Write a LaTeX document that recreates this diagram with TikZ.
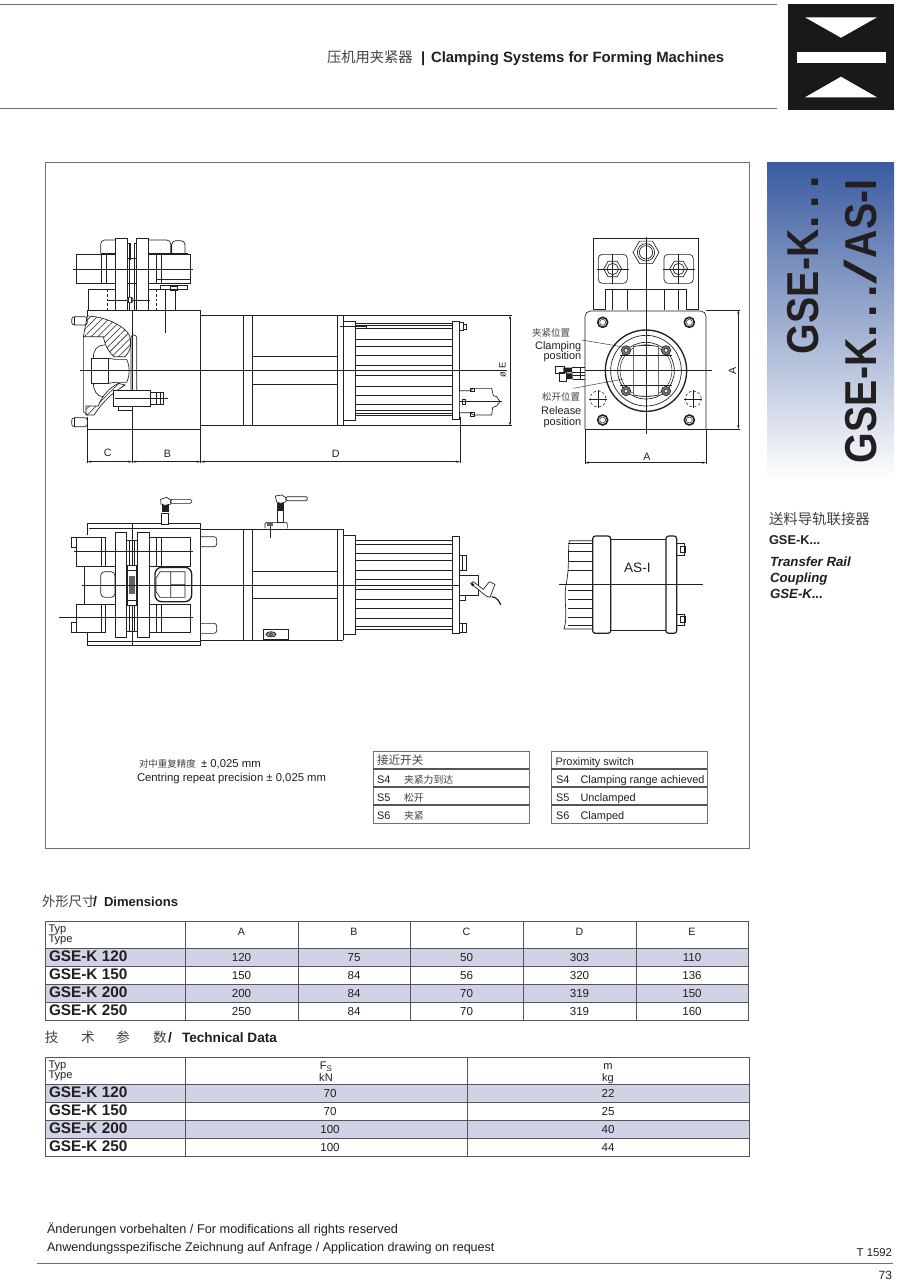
\documentclass[tikz,border=0pt]{standalone}
\usepackage{fontspec}
\usepackage{graphicx}
\setmainfont{Liberation Sans}
\newfontfamily\cjk{Noto Sans CJK SC}[BoldFont={Noto Sans CJK SC}]
\usetikzlibrary{patterns.meta,arrows.meta}
\definecolor{ink}{HTML}{231F20}
\definecolor{rowfill}{HTML}{D0D2E6}
\definecolor{rule}{HTML}{555555}
\definecolor{framegray}{HTML}{707070}
\definecolor{panelblue}{HTML}{3A5BA0}
\definecolor{panelmid}{HTML}{ABAFD5}
\tikzset{
  part/.style={draw=ink,line width=.5pt},
  thin part/.style={draw=ink,line width=.35pt},
  heavy/.style={draw=ink,line width=1pt},
  axis line/.style={draw=ink,line width=.3pt},
  dim line/.style={draw=ink,line width=.35pt,{Stealth[length=3pt,width=1.6pt]}-{Stealth[length=3pt,width=1.6pt]}},
  hidden part/.style={draw=ink,line width=.4pt,dash pattern=on 2pt off 1.5pt},
  hatched/.style={draw=ink,line width=.5pt,pattern={Lines[angle=45,distance=3.6pt,line width=.4pt]},pattern color=ink},
  txt/.style={inner sep=0pt,outer sep=0pt,text=ink,anchor=base west},
  txtr/.style={txt,anchor=base east},
  txtc/.style={txt,anchor=base},
  cellrule/.style={draw=rule,line width=.7pt},
  view/.style={x=.25pt,y=-.25pt},
}
\newcommand{\fs}[1]{\fontsize{#1}{#1}\selectfont}
\newcommand{\hexa}[3]{\draw[part] (#1,#2)+(0:#3)--+(60:#3)--+(120:#3)--+(180:#3)--+(240:#3)--+(300:#3)--cycle;}
\newcommand{\narrow}[1]{\scalebox{.88}[1]{#1}}
\newcommand{\wdots}{\kern1pt.\kern5.4pt.\kern5.4pt.}
\begin{document}
\begin{tikzpicture}[x=.75pt,y=-.75pt]
\useasboundingbox (0,0) rectangle (900,1283);
\fill[white] (0,0) rectangle (900,1283);

% header
\draw[framegray,line width=.6pt] (0,4)--(777,4) (0,108)--(777,108);
\node[txt] (titlecn) at (327,62) {\cjk\fs{10.7}\color{ink!85}压机用夹紧器};
\node[txt] (titlebar) at (421,62) {\fs{11}\bfseries |};
\node[txt] (titleen) at (431,62) {\fs{11.18}\bfseries Clamping Systems for Forming Machines};
\fill[black!90] (788,4) rectangle (894,110);
\fill[white] (797,52) rectangle (886,62.5);
\fill[white] (805,17.3)--(877,17.3)--(841,37.7)--cycle;
\fill[white] (805,97.3)--(877,97.3)--(841,76.7)--cycle;

% side panel
\shade[top color=panelblue,middle color=panelmid,bottom color=white] (767,162) rectangle (894,480);
\node[txt,rotate=90] (bigone) at (818,354) {\fs{33.5}\bfseries\narrow{GSE-K}\wdots};
\node[txt,rotate=90] (bigtwo) at (876,463) {\fs{33.5}\bfseries\narrow{GSE-K}\wdots\kern1pt\scalebox{2}[1]{\mdseries /}\kern1pt\narrow{AS-I}};
\node[txt] (sidecn) at (769,524) {\cjk\fs{10.8}\color{ink!85}送料导轨联接器};
\node[txt] (sideone) at (769,544) {\fs{9.6}\bfseries GSE-K...};
\node[txt] (sidetwo) at (770,566) {\fs{9.95}\bfseries\itshape Transfer Rail};
\node[txt] (sidethree) at (770,582) {\fs{9.95}\bfseries\itshape Coupling};
\node[txt] (sidefour) at (770,598) {\fs{9.95}\bfseries\itshape GSE-K...};

% frame
\draw[framegray,line width=.6pt] (45,162) rectangle (749,848);

% ------ upper side view (reference crop at 50,220)
\begin{scope}[view,shift={(150,660)}]
 % dims
 \draw[axis line] (112,628)--(112,730) (247,628)--(247,730) (452,628)--(452,730) (1230,590)--(1230,730);
 \draw[dim line] (112,725)--(247,725);
 \draw[dim line] (247,725)--(452,725);
 \draw[dim line] (452,725)--(1230,725);
 \draw[axis line] (880,286)--(1385,286) (880,617)--(1385,617);
 \draw[dim line] (1380,286)--(1380,617);
 \node[txtc] (labC) at (173,709) {\fs{8}C};
 \node[txtc] (labB) at (352,713) {\fs{8}B};
 \node[txtc] (labD) at (857,712) {\fs{8}D};
 \node[txtc,rotate=90] (labE) at (1367,450) {\fs{7}ø E};
 % head
 \draw[part] (195,55) rectangle (232,270) (260,55) rectangle (295,270);
 \draw[part] (232,70) -- (238,70)--(238,270) (260,70)--(254,70)--(254,270);
 \draw[heavy] (240,68)--(240,120) (254,68)--(254,120);
 \draw[thin part] (232,115)--(260,115) (232,190)--(260,190);
 \draw[part,fill=white] (78,103) rectangle (170,190) (318,103) rectangle (420,190);
 \draw[part] (155,103)--(155,190) (335,103)--(335,190) (170,103)--(195,103) (170,190)--(195,190) (295,103)--(318,103) (295,190)--(318,190) (318,178)--(420,178) (318,103)--(318,190);
 \draw[part,rounded corners=3pt] (152,100)--(152,60)--(195,60) (295,60)--(362,60)--(362,100) (365,100)--(365,62)--(405,62)--(405,100);
 \draw[thin part] (152,100)--(195,100) (295,100)--(415,100);
 \draw[axis line] (68,148)--(428,148);
 \draw[part] (115,270)--(115,208)--(195,208) (295,208)--(375,208)--(375,270);
 \draw[hidden part] (172,208)--(172,270) (320,208)--(320,270);
 \draw[part] (332,195)--(413,195)--(413,208)--(360,208) (332,195)--(332,208) (360,198)--(382,198)--(382,210)--(360,210)--cycle;
 \draw[part] (345,208)--(345,340);
 \draw[axis line] (175,240)--(300,240);
 \draw[part,fill=white] (240,240) circle[radius=9];
 \draw[heavy] (236,232)--(236,248) (244,232)--(244,248);
 % main block
 \draw[part] (112,270) rectangle (452,628);
 \draw[part] (247,270)--(247,628);
 \fill[white] (105,292) rectangle (114,595);
 \draw[part] (112,270)--(112,290) (112,590)--(112,628);
 \draw[part] (100,350)--(100,575)--(112,585);
 \draw[part,rounded corners=2pt] (65,290) rectangle (112,315) (65,593) rectangle (112,620);
 \draw[thin part] (73,290)--(73,315) (73,593)--(73,620);
 % hatched sections
 \draw[hatched] (112,288) .. controls (170,290) and (225,320) .. (238,345) .. controls (245,365) and (245,390) .. (225,410)
   -- (192,410) .. controls (175,395) and (165,375) .. (160,350) -- (100,350) -- cycle;
 \draw[hatched] (205,490) -- (225,495) .. controls (195,515) and (165,535) .. (132,585) -- (108,585) -- (108,558) -- (145,558) .. controls (155,530) and (175,505) .. (205,490) -- cycle;
 % ball and pin
 \draw[part] (125,415) rectangle (175,490);
 \draw[part] (175,415) -- (195,418) -- (230,418) (175,490)--(195,487)--(230,487);
 \draw[part] (130,415) .. controls (130,390) and (140,375) .. (165,375) (130,490) .. controls (130,510) and (140,530) .. (160,530);
 \draw[part] (230,418) .. controls (240,440) and (240,465) .. (230,487);
 \draw[part,rounded corners=2pt] (243,345) rectangle (260,555);
 % lower piston
 \draw[part,fill=white] (190,510)--(300,510)--(300,560)--(190,560)--(190,540)--cycle;
 \draw[part] (205,560)--(205,570)--(248,570)--(248,560);
 \draw[part] (300,518)--(340,518)--(340,552)--(300,552);
 \draw[thin part] (320,518)--(320,552) (330,518)--(330,552);
 \draw[axis line] (195,535)--(355,535);
 % cylinder
 \draw[part] (452,286)--(880,286) (452,617)--(880,617);
 \draw[heavy] (580,286)--(580,617) (880,286)--(880,617);
 \draw[part] (606,286)--(606,617) (862,286)--(862,617);
 \draw[part] (606,410)--(862,410) (606,492)--(862,492);
 % flange & fins
 \draw[part] (880,305) rectangle (915,600);
 \draw[part] (870,318)--(950,318)--(950,326)--(915,326);
 \foreach \yy in {310,316,325,357,380,407,435,467,498,525,552,572,580,585}{\draw[thin part] (915,\yy)--(1208,\yy);}
 \draw[part] (1208,305) rectangle (1228,598);
 \draw[part] (1228,308) rectangle (1240,332);
 \draw[thin part] (1240,312) rectangle (1250,328);
 % plug
 \draw[part,fill=white] (1228,512)--(1262,512)--(1270,505)--(1325,505)--(1330,527)--(1340,530)--(1350,545)--(1340,558)--(1328,562)--(1325,585)--(1270,585)--(1262,578)--(1228,578)--cycle;
 \draw[part] (1238,538) rectangle (1245,552) (1262,505) rectangle (1273,515) (1262,578) rectangle (1273,590);
 \draw[axis line] (1228,545)--(1355,545);
 % axis
 \draw[axis line] (90,451)--(1372,451);
\end{scope}

% ------ front view (reference crop at 520,225)
\begin{scope}[view,shift={(1560,675)}]
 \draw[part] (220,255)--(220,40)--(535,40)--(535,255);
 \draw[part,rounded corners=3pt] (235,88) rectangle (322,175) (432,88) rectangle (520,175);
 \draw[part] (257,255)--(257,193)--(500,193)--(500,255) (278,193)--(278,255) (323,193)--(323,255) (432,193)--(432,255) (475,193)--(475,255);
 \draw[heavy] (222,253)--(257,253) (500,253)--(534,253);
 \hexa{278}{132}{27}\hexa{476}{132}{27}\hexa{378}{82}{39}
 \foreach \cx/\cy/\rr in {278/132/17,476/132/17,378/82/26,378/82/20}{\draw[part] (\cx,\cy) circle[radius=\rr];}
 \draw[axis line] (230,132)--(326,132) (278,88)--(278,178) (430,132)--(525,132) (476,88)--(476,178);
 \draw[part,rounded corners=4pt] (195,612)--(195,258)--(558,258)--(558,612);
 \draw[part] (195,612)--(558,612);
 \foreach \cx/\cy in {248/292,508/292,248/585,508/585}{
   \draw[draw=ink,line width=1.2pt] (\cx,\cy) circle[radius=15];
   \draw[thin part] (\cx,\cy) circle[radius=9];}
 \foreach \cx/\cy in {234/522,520/522}{
   \draw[hidden part] (\cx,\cy) circle[radius=24];
   \draw[axis line] (\cx-27,\cy)--(\cx+27,\cy) (\cx,\cy-27)--(\cx,\cy+27);}
 \draw[heavy] (378,437) circle[radius=122];
 \draw[part] (378,437) circle[radius=106];
 \draw[part] (378,437) circle[radius=85];
 \draw[thin part] (378,437) circle[radius=78];
 \draw[part,fill=white] (340,365) .. controls (360,360) and (395,360) .. (415,365) -- (415,510) .. controls (395,515) and (360,515) .. (340,510) -- cycle;
 \draw[part] (340,392)--(415,392) (340,480)--(415,480) (300,392)--(340,392) (415,392)--(455,392) (300,480)--(340,480) (415,480)--(455,480);
 \foreach \cx/\cy in {318/376,438/376,318/498,438/498}{
   \draw[part,fill=ink!60] (\cx,\cy) circle[radius=14];
   \draw[part,fill=white] (\cx,\cy) circle[radius=6];}
 % switch
 \draw[part,fill=white] (106,424) rectangle (132,446) (118,442) rectangle (140,468);
 \fill[ink] (130,428) rectangle (156,442) (140,445) rectangle (158,462);
 \draw[part] (156,428)--(195,428) (158,462)--(195,462) (156,442)--(195,442) (158,452)--(195,452);
 \draw[part] (180,428)--(180,462);
 % axes and leaders
 \draw[axis line] (378,35)--(378,628) (195,437)--(575,437);
 \draw[axis line] (185,345)--(305,365) (160,490)--(310,462);
 % dims
 \draw[axis line] (558,255)--(660,255) (558,612)--(660,612) (195,612)--(195,718) (558,612)--(558,718);
 \draw[dim line] (655,255)--(655,612);
 \draw[dim line] (195,713)--(558,713);
 \node[txtc,rotate=90] (labAv) at (648,437) {\fs{8}A};
 \node[txtc] (labAh) at (381,706) {\fs{8}A};
 % labels
 \node[txtr] (clampcn) at (150,333) {\cjk\fs{7.1}\color{ink!85}夹紧位置};
 \node[txtr] (clampa) at (184,372) {\fs{8.2}Clamping};
 \node[txtr] (clampb) at (184,404) {\fs{8.2}position};
 \node[txtr] (relcn) at (180,526) {\cjk\fs{7.1}\color{ink!85}松开位置};
 \node[txtr] (rela) at (184,569) {\fs{8.2}Release};
 \node[txtr] (relb) at (184,601) {\fs{8.2}position};
\end{scope}

% ------ lower side view (reference crop at 50,490)
\begin{scope}[view,shift={(150,1470)}]
 \draw[part] (112,100) rectangle (452,467);
 \draw[part] (112,114)--(452,114) (112,455)--(452,455);
 \fill[white] (108,115) rectangle (116,454);
 \draw[part] (112,114)--(112,135) (112,430)--(112,455);
 \draw[part] (103,228)--(103,342);
 \draw[part,fill=white] (80,142) rectangle (165,228) (80,342) rectangle (165,428) (297,142) rectangle (420,228) (297,342) rectangle (420,428);
 \draw[part] (155,142)--(155,228) (155,342)--(155,428) (318,142)--(318,228) (335,142)--(335,228) (318,342)--(318,428) (335,342)--(335,428);
 \draw[part] (65,142) rectangle (80,172) (65,398) rectangle (80,428);
 \draw[thin part] (103,228)--(195,228) (103,342)--(195,342);
 \draw[part,rounded corners=2pt] (452,140)--(500,140)--(500,170)--(452,170) (452,400)--(500,400)--(500,430)--(452,430);
 % nuts
 \draw[part,rounded corners=3pt] (152,245) rectangle (195,322);
 \draw[part,line width=1pt,rounded corners=5pt] (315,232) rectangle (425,335);
 \draw[part] (362,245) -- (405,245) -- (405,322) -- (362,322) -- cycle (362,284)--(405,284) (330,245)--(362,245) (330,322)--(362,322) (330,245)--(318,265)--(318,305)--(330,322);
 % plates
 \draw[part,fill=white] (195,127) rectangle (230,442) (262,127) rectangle (297,442);
 \draw[part] (230,150)--(262,150) (230,225)--(262,225) (230,345)--(262,345) (230,425)--(262,425);
 \draw[heavy] (247,103)--(247,466);
 \draw[part] (238,150)--(238,225) (254,150)--(254,225) (238,345)--(238,425) (254,345)--(254,425);
 \draw[part,fill=white] (232,225) rectangle (260,345);
 \fill[ink!70] (238,258) rectangle (255,312);
 \draw[part] (232,240)--(260,240) (232,330)--(260,330);
 % axes
 \draw[axis line] (72,185)--(430,185) (28,382)--(430,382);
 % cylinder
 \draw[part] (452,118)--(880,118) (452,450)--(880,450);
 \draw[heavy] (580,118)--(580,450) (880,118)--(880,450);
 \draw[part] (606,118)--(606,450) (862,118)--(862,450) (606,244)--(862,244) (606,326)--(862,326);
 \draw[part] (640,418) rectangle (715,447);
 \draw[part,fill=ink!50] (663,433) ellipse[x radius=15,y radius=8];
 \draw[part,fill=white] (663,433) circle[radius=4];
 % flange and fins
 \draw[part] (880,135) rectangle (915,432);
 \foreach \yy in {152,162,190,212,240,268,298,328,355,385,408,418}{\draw[thin part] (915,\yy)--(1208,\yy);}
 \draw[part] (1208,138) rectangle (1228,430);
 % plug
 \draw[part] (1228,255)--(1285,255)--(1285,315)--(1228,315);
 \draw[part] (1228,195) rectangle (1248,240) (1228,315) rectangle (1245,330) (1228,400) rectangle (1248,428);
 \draw[thin part] (1237,195)--(1237,240) (1237,400)--(1237,428);
 \draw[part,fill=white] (1262,280)--(1270,275)--(1300,298)--(1318,275)--(1335,283)--(1320,322)--(1308,318)--cycle;
 \draw[part,line width=.9pt] (1325,320) .. controls (1340,322) and (1348,332) .. (1352,345);
 \fill[ink] (1268,284) circle[radius=5];
 % switches
 \draw[part,fill=white] (335,102) rectangle (355,70);
 \fill[ink] (337,45) rectangle (358,66);
 \draw[part,fill=white] (332,28)--(350,22)--(362,30)--(362,42)--(345,46)--(333,42)--cycle;
 \draw[part,rounded corners=1pt] (362,28) rectangle (425,40);
 \draw[part] (645,100)--(650,97)--(708,97)--(712,102)--(712,115) (645,100)--(645,115);
 \draw[part,fill=white] (682,62) rectangle (700,97);
 \fill[ink] (680,40) rectangle (702,60);
 \fill[ink!70] (650,97) rectangle (668,108);
 \draw[axis line] (660,108)--(660,143);
 \draw[part,fill=white] (676,18)--(695,15)--(708,23)--(708,35)--(692,40)--(680,36)--cycle;
 \draw[part,rounded corners=1pt] (708,20) rectangle (772,32);
 % centre axis
 \draw[axis line] (95,285)--(1230,285);
\end{scope}

% ------ AS-I view (reference crop at 540,525)
\begin{scope}[view,shift={(1620,1575)}]
 \draw[part] (158,47)--(88,47) .. controls (82,90) and (90,120) .. (78,180) .. controls (70,230) and (85,270) .. (72,312) -- (158,312);
 \foreach \yy in {55,80,108,135,195,222,250,278,300}{\draw[thin part] (84,\yy)--(158,\yy);}
 \draw[part,line width=.9pt,rounded corners=2pt] (158,33) rectangle (212,325);
 \draw[part] (212,43)--(378,43) (212,315)--(378,315);
 \draw[part,line width=.9pt,rounded corners=2pt] (378,33) rectangle (410,325);
 \draw[part] (410,55) rectangle (432,92) (410,268) rectangle (432,300);
 \draw[thin part] (420,65) rectangle (437,82) (420,275) rectangle (437,292);
 \draw[axis line] (58,179)--(490,179);
 \node[txtc] (asi) at (292,143) {\fs{10.2}AS-I};
\end{scope}

% ------ notes and switch tables
\node[txt] (notecn) at (139,767) {\cjk\fs{7.1}\color{ink!85}对中重复精度};
\node[txt] (notecnv) at (201,767) {\fs{8.5}± 0,025 mm};
\node[txt] (noteen) at (137,781) {\fs{8.48}Centring repeat precision ± 0,025 mm};
\foreach \xl in {373,551}{
  \draw[framegray,line width=.6pt] (\xl,751) rectangle (\xl+156,823);
  \draw[rule,line width=.8pt] (\xl,769)--(\xl+156,769) (\xl,787)--(\xl+156,787) (\xl,805)--(\xl+156,805);
}
\node[txt] (swcnh) at (377,764) {\cjk\fs{8.7}\color{ink!85}接近开关};
\foreach \yy/\ss/\cc/\nn in {783/S4/夹紧力到达/a,801/S5/松开/b,819/S6/夹紧/c}{
  \node[txt] (swcnk\nn) at (377,\yy) {\fs{8.2}\ss};
  \node[txt] (swcnv\nn) at (404,\yy) {\cjk\fs{7.4}\color{ink!85}\cc};
}
\node[txt] (swenh) at (555.5,765) {\fs{8.2}Proximity switch};
\foreach \yy/\ss/\cc/\nn in {783/S4/Clamping range achieved/a,801/S5/Unclamped/b,819/S6/Clamped/c}{
  \node[txt] (swenk\nn) at (556,\yy) {\fs{8.2}\ss};
  \node[txt] (swenv\nn) at (580.5,\yy) {\fs{8.2}\cc};
}

% ------ dimensions table
\node[txt] (dimcn) at (42,906) {\cjk\fs{10}\color{ink!85}外形尺寸};
\node[txt] (dimsl) at (93,906) {\fs{10.5}\bfseries /};
\node[txt] (dimen) at (104,906) {\fs{9.8}\bfseries Dimensions};
\fill[rowfill] (45,948) rectangle (748,966) (45,984) rectangle (748,1002);
\draw[cellrule] (45,921) rectangle (748,1020);
\foreach \yy in {948,966,984,1002}{\draw[cellrule] (45,\yy)--(748,\yy);}
\foreach \xx in {185,298,410.5,523,636}{\draw[cellrule] (\xx,921)--(\xx,1020);}
\node[txt] (typa) at (48.5,932) {\fs{8.3}Typ};
\node[txt] (typb) at (48.5,942.5) {\fs{8.3}Type};
\foreach \xx/\hh/\nn in {241.5/A/a,354/B/b,466.5/C/c,579.5/D/d,692/E/e}{
  \node[txtc] (dh\nn) at (\xx,935) {\fs{8}\hh};
}
\foreach \yy/\ty/\va/\vb/\vc/\vd/\ve/\nn in {
  961/GSE-K 120/120/75/50/303/110/a,
  979/GSE-K 150/150/84/56/320/136/b,
  997/GSE-K 200/200/84/70/319/150/c,
  1015/GSE-K 250/250/84/70/319/160/d}{
  \node[txt] (dt\nn) at (49,\yy+.5) {\fs{11.5}\bfseries\ty};
  \node[txtc] (dva\nn) at (241.5,\yy) {\fs{8.7}\va};
  \node[txtc] (dvb\nn) at (354,\yy) {\fs{8.7}\vb};
  \node[txtc] (dvc\nn) at (466.5,\yy) {\fs{8.7}\vc};
  \node[txtc] (dvd\nn) at (579.5,\yy) {\fs{8.7}\vd};
  \node[txtc] (dve\nn) at (692,\yy) {\fs{8.7}\ve};
}

% ------ technical data table
\foreach \xx/\cc/\nn in {45/技/a,81/术/b,116/参/c,153/数/d}{
  \node[txt] (tc\nn) at (\xx,1042) {\cjk\fs{10.2}\color{ink!85}\cc};
}
\node[txt] (techsl) at (168,1042) {\fs{10.5}\bfseries /};
\node[txt] (techen) at (182,1042) {\fs{10.2}\bfseries Technical Data};
\fill[rowfill] (45,1084.5) rectangle (749,1102.5) (45,1120.5) rectangle (749,1138.5);
\draw[cellrule] (45,1057) rectangle (749,1156.5);
\foreach \yy in {1084.5,1102.5,1120.5,1138.5}{\draw[cellrule] (45,\yy)--(749,\yy);}
\foreach \xx in {185,467}{\draw[cellrule] (\xx,1057)--(\xx,1156.5);}
\node[txt] (ttypa) at (48.5,1068) {\fs{8.3}Typ};
\node[txt] (ttypb) at (48.5,1078.5) {\fs{8.3}Type};
\node[txtc] (tfs) at (326,1069.5) {\fs{8.3}F\raisebox{-1.5pt}{\fs{6}S}};
\node[txtc] (tkn) at (326,1081) {\fs{8.3}kN};
\node[txtc] (tm) at (608,1069.5) {\fs{8.3}m};
\node[txtc] (tkg) at (608,1081) {\fs{8.3}kg};
\foreach \yy/\ty/\va/\vb/\nn in {
  1097/GSE-K 120/70/22/a,
  1115/GSE-K 150/70/25/b,
  1133/GSE-K 200/100/40/c,
  1151/GSE-K 250/100/44/d}{
  \node[txt] (tt\nn) at (49,\yy+.5) {\fs{11.5}\bfseries\ty};
  \node[txtc] (tva\nn) at (330,\yy) {\fs{8.7}\va};
  \node[txtc] (tvb\nn) at (608,\yy) {\fs{8.7}\vb};
}

% ------ footer
\node[txt] (foota) at (47,1233.5) {\fs{9.55}Änderungen vorbehalten / For modifications all rights reserved};
\node[txt] (footb) at (47,1251) {\fs{9.42}Anwendungsspezifische Zeichnung auf Anfrage / Application drawing on request};
\node[txtr] (code) at (892,1256) {\fs{8.5}T 1592};
\draw[framegray,line width=.6pt] (37,1263)--(893,1263);
\node[txtr] (pagenum) at (892,1279) {\fs{9}73};
\end{tikzpicture}
\end{document}
